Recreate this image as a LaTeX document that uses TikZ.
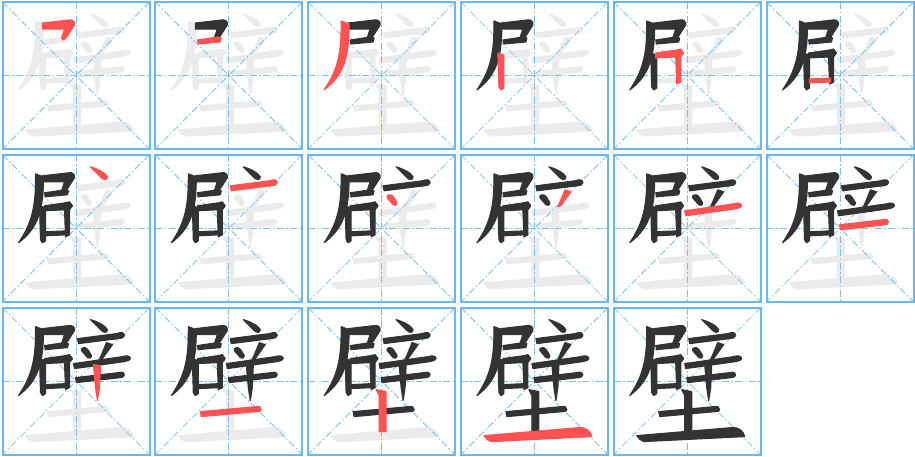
\documentclass[tikz,border=0pt]{standalone}
\definecolor{ink}{HTML}{333333}
\definecolor{cur}{HTML}{FF5252}
\definecolor{ghost}{HTML}{EBEBEB}
\definecolor{gridblue}{HTML}{6AB7F2}
\definecolor{guideblue}{HTML}{7DC0F0}
\tikzset{
  cellframe/.style={draw=gridblue, line width=2pt},
  guideline/.style={draw=guideblue, line width=0.8pt, dash pattern=on 7pt off 2.5pt on 1.5pt off 2.5pt},
  strokeshape/.style={fill=#1, draw=#1, line width=1.1pt, line join=round}
}
\newcommand\zistroke[2]{%
 \ifcase#1\or
  \path[strokeshape=#2] (40,21) -- (66,18) .. controls (70,17) and (73,20) .. (72,23) -- (65,34) -- (61,38) -- (59,36) -- (62,27) -- (40,27) -- cycle;
 \or
  \path[strokeshape=#2] (42,38) -- (62,35) -- (66,36) -- (65,40) -- (43,42) -- cycle;
 \or
  \path[strokeshape=#2] (33,19) -- (41,22) .. controls (41,55) and (36,73) .. (16,88) .. controls (28,70) and (33,55) .. (33,25) -- cycle;
 \or
  \path[strokeshape=#2] (37,51) -- (43,53) -- (43,86) -- (40,88) -- (38,85) -- cycle;
 \or
  \path[strokeshape=#2] (42,51) -- (63,48) -- (67,47) -- (70,51) -- (67,55) -- (67,80) -- (63,82) -- (62,55) -- (42,56) -- cycle;
 \or
  \path[strokeshape=#2] (43,77) -- (64,76) -- (64,80) -- (43,81) -- cycle;
 \or
  \path[strokeshape=#2] (88,12) .. controls (95,14) and (103,18) .. (105,22) .. controls (105,26) and (101,25) .. (99,23) .. controls (96,20) and (92,16) .. (88,12) -- cycle;
 \or
  \path[strokeshape=#2] (75,31) -- (114,26) .. controls (119,24) and (122,25) .. (122,28) .. controls (122,30) and (119,31) .. (116,31) -- (76,36) -- cycle;
 \or
  \path[strokeshape=#2] (79,41) .. controls (82,39) and (84,40) .. (86,43) -- (89,48) .. controls (89,51) and (86,51) .. (85,50) -- (79,43) -- cycle;
 \or
  \path[strokeshape=#2] (104,35) -- (110,37) -- (100,51) -- (97,52) -- cycle;
 \or
  \path[strokeshape=#2] (71,56) -- (120,49) .. controls (125,47) and (128,49) .. (128,51) .. controls (128,53) and (125,53) .. (122,54) -- (72,61) -- cycle;
 \or
  \path[strokeshape=#2] (73,70) -- (116,65) .. controls (120,64) and (122,65) .. (122,67) .. controls (122,69) and (120,70) .. (118,70) -- (74,75) -- cycle;
 \or
  \path[strokeshape=#2] (91,57) -- (98,58) -- (97,80) -- (95,93) -- (93,80) -- cycle;
 \or
  \path[strokeshape=#2] (45,104) -- (101,99) .. controls (104,98) and (106,100) .. (106,102) .. controls (106,104) and (104,104) .. (102,104) -- (46,109) -- cycle;
 \or
  \path[strokeshape=#2] (68,82) -- (78,84) -- (78,124) -- (71,124) -- (71,88) -- cycle;
 \or
  \path[strokeshape=#2] (23,128) -- (118,120) .. controls (125,119) and (130,124) .. (131,129) -- (30,134) .. controls (27,133) and (25,131) .. (23,128) -- cycle;
 \fi}
\newcommand\zicell[3]{%
 \begin{scope}[shift={(#1,#2)}]
  \foreach \k in {1,...,16}{\ifnum\k>#3\relax\zistroke{\k}{ghost}\fi}
  \draw[guideline] (0,73.5) -- (147,73.5);
  \draw[guideline] (73.5,0) -- (73.5,147);
  \draw[guideline] (0,0) -- (147,147);
  \draw[guideline] (147,0) -- (0,147);
  \foreach \k in {1,...,16}{\ifnum\k<#3\relax\zistroke{\k}{ink}\else\ifnum\k=#3\relax\zistroke{\k}{cur}\fi\fi}
  \draw[cellframe] (0,0) rectangle (147,147);
 \end{scope}}
\begin{document}
\begin{tikzpicture}[x=1pt,y=-1pt]
\useasboundingbox (0,0) rectangle (915,456);
\fill[white] (0,0) rectangle (915,456);
\zicell{2.5}{2}{1}
\zicell{155.3}{2}{2}
\zicell{308.1}{2}{3}
\zicell{460.9}{2}{4}
\zicell{613.7}{2}{5}
\zicell{766.5}{2}{6}
\zicell{2.5}{154.8}{7}
\zicell{155.3}{154.8}{8}
\zicell{308.1}{154.8}{9}
\zicell{460.9}{154.8}{10}
\zicell{613.7}{154.8}{11}
\zicell{766.5}{154.8}{12}
\zicell{2.5}{307.6}{13}
\zicell{155.3}{307.6}{14}
\zicell{308.1}{307.6}{15}
\zicell{460.9}{307.6}{16}
\zicell{613.7}{307.6}{17}
\end{tikzpicture}
\end{document}
